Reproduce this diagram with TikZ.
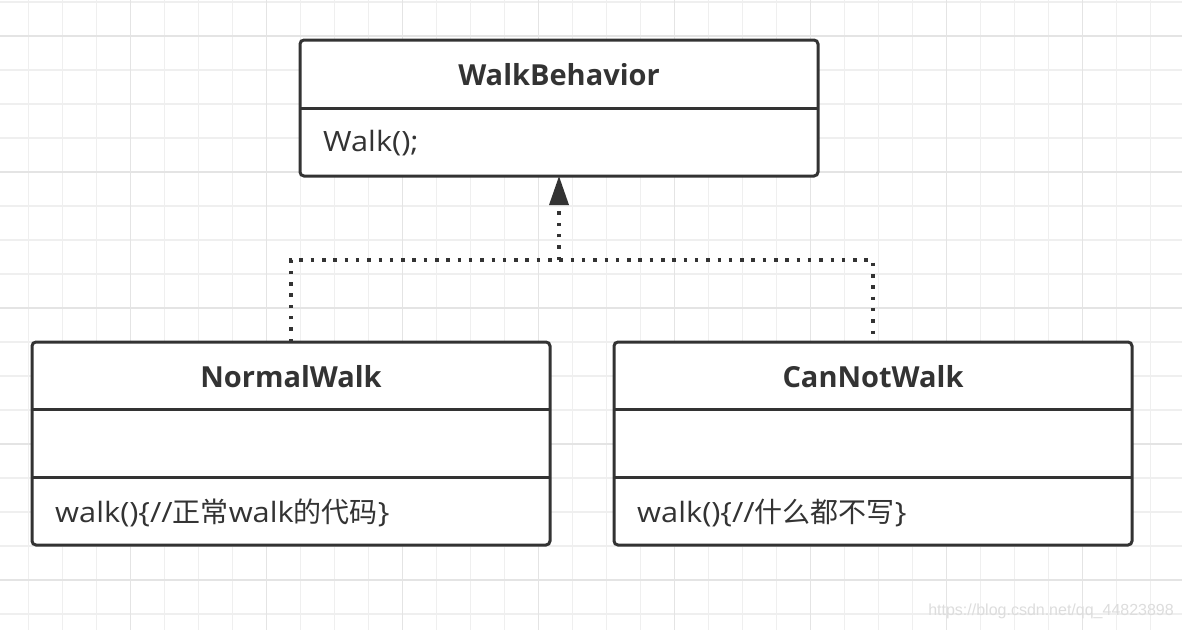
\documentclass[tikz,border=0pt]{standalone}
\usepackage{fontspec}
\setmainfont{Open Sans}
\newfontfamily\bodyfont[FakeStretch=1.1]{Open Sans}
\newfontfamily\cjk{Noto Sans CJK SC}
\newfontfamily\wmfont{Liberation Sans}
\usetikzlibrary{arrows.meta}
\definecolor{ink}{HTML}{333333}
\definecolor{gridminor}{HTML}{EFEFEF}
\definecolor{gridmajor}{HTML}{E4E4E4}
\definecolor{wmark}{HTML}{DDDDDD}
\begin{document}
\begin{tikzpicture}[x=1pt,y=-1pt,
  box/.style={draw=ink, line width=3pt, rounded corners=4pt, fill=white, inner sep=0pt, outer sep=0pt, minimum width=518pt},
  sep/.style={draw=ink, line width=3pt},
  title/.style={font=\fontsize{29}{34}\selectfont\bfseries, text=ink, inner sep=0pt},
  member/.style={font=\bodyfont\fontsize{28}{34}\selectfont, text=ink, anchor=west, inner sep=0pt},
  realize/.style={draw=ink, line width=3.5pt, dash pattern=on 3.5pt off 7.8pt},
]
\useasboundingbox (0,0) rectangle (1182,630);
\fill[white] (0,0) rectangle (1182,630);
\foreach \i in {0,...,33} { \draw[gridminor, line width=1.2pt] ({28.5+34*\i},0) -- ({28.5+34*\i},630); }
\foreach \i in {0,...,18} { \draw[gridminor, line width=1.2pt] (0,{2+34*\i}) -- (1182,{2+34*\i}); }
\foreach \i in {0,...,7} { \draw[gridmajor, line width=1.5pt] ({130.5+136*\i},0) -- ({130.5+136*\i},630); }
\foreach \i in {0,...,4} { \draw[gridmajor, line width=1.5pt] (0,{36+136*\i}) -- (1182,{36+136*\i}); }

% boxes
\node[box, minimum height=136pt] (wb) at (559,108) {};
\node[box, minimum height=203pt] (nw) at (291,443.5) {};
\node[box, minimum height=203pt] (cw) at (873,443.5) {};

% dividers
\draw[sep] (wb.west) -- (wb.east);
\draw[sep] (nw.west |- 0,409) -- (nw.east |- 0,409);
\draw[sep] (nw.west |- 0,477) -- (nw.east |- 0,477);
\draw[sep] (cw.west |- 0,409) -- (cw.east |- 0,409);
\draw[sep] (cw.west |- 0,477) -- (cw.east |- 0,477);

% texts
\node[title] (wbt) at (559,75) {WalkBehavior};
\node[member] (wbm) at (323,143) {Walk();};
\node[title] (nwt) at (291,377) {NormalWalk};
\node[member] (nwm) at (55,513) {walk()\{//{\cjk 正常}walk{\cjk 的代码}\}};
\node[title] (cwt) at (873,377) {CanNotWalk};
\node[member] (cwm) at (637,513) {walk()\{//{\cjk 什么都不写}\}};

% connectors
\coordinate (j) at (559,260);
\draw[realize] (nw.north) |- (j) -| (cw.north);
\draw[realize, -{Triangle[width=19pt,length=29pt]}] (j) -- (wb.south);

% watermark
\node[anchor=east, inner sep=0pt, font=\wmfont\fontsize{16}{19}\selectfont, text=wmark] (wmk) at (1174,611) {https://blog.csdn.net/qq\_44823898};
\end{tikzpicture}
\end{document}
